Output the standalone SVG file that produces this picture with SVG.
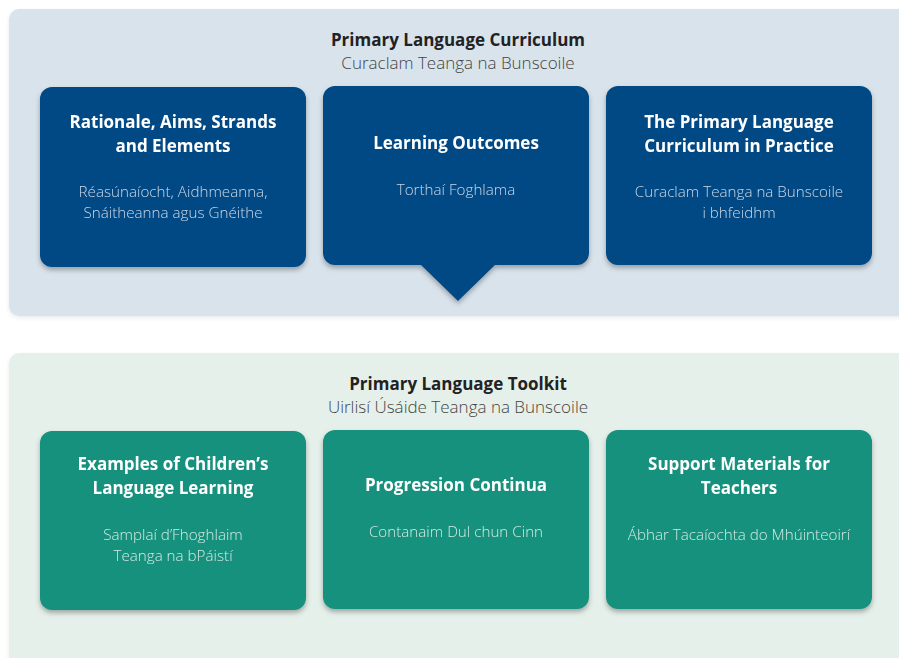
<svg xmlns="http://www.w3.org/2000/svg" width="899" height="658" viewBox="0 0 899 658">
  <style>
    .panel-top { fill: #d9e3ec; }
    .panel-bot { fill: #e6f0ea; }
    .card-blue { fill: #054a84; }
    .card-teal { fill: #18917d; }
    .head { font-family: "Open Sans", "Noto Sans", sans-serif; font-weight: 700; font-size: 17px; fill: #222; text-anchor: middle; }
    .headsub { font-family: "Open Sans", "Noto Sans", sans-serif; font-weight: 300; font-size: 17px; fill: #444; text-anchor: middle; }
    .title { font-family: "Open Sans", "Noto Sans", sans-serif; font-weight: 700; font-size: 17px; fill: #ffffff; text-anchor: middle; }
    .sub-blue { font-family: "Open Sans", "Noto Sans", sans-serif; font-weight: 300; font-size: 15.2px; fill: #c8d6e6; text-anchor: middle; }
    .sub-teal { font-family: "Open Sans", "Noto Sans", sans-serif; font-weight: 300; font-size: 15.2px; fill: #d2eae3; text-anchor: middle; }
  </style>
  <defs>
    <filter id="shadow" x="-10%" y="-10%" width="120%" height="130%">
      <feDropShadow dx="0" dy="3" stdDeviation="2.5" flood-color="#000" flood-opacity="0.3"/>
    </filter>
    <filter id="panelShadow" x="-5%" y="-5%" width="110%" height="115%">
      <feDropShadow dx="0" dy="2" stdDeviation="2" flood-color="#000" flood-opacity="0.08"/>
    </filter>
  </defs>
  <rect width="899" height="658" fill="#ffffff"/>

  <!-- Curriculum section -->
  <g id="curriculum">
    <rect class="panel-top" x="9" y="9" width="900" height="307" rx="10" filter="url(#panelShadow)"/>
    <text class="head" x="458" y="46">Primary Language Curriculum</text>
    <text class="headsub" x="458" y="69">Curaclam Teanga na Bunscoile</text>
  </g>

  <g id="rationale" filter="url(#shadow)">
    <rect class="card-blue" x="40" y="87" width="266" height="180" rx="12"/>
    <text class="title" x="173" y="128">Rationale, Aims, Strands</text>
    <text class="title" x="173" y="152">and Elements</text>
    <text class="sub-blue" x="173" y="197">Réasúnaíocht, Aidhmeanna,</text>
    <text class="sub-blue" x="173" y="218">Snáitheanna agus Gnéithe</text>
  </g>

  <g id="outcomes" filter="url(#shadow)">
    <path class="card-blue" d="M335 86 H577 A12 12 0 0 1 589 98 V253 A12 12 0 0 1 577 265 H495 L458 301 L421 265 H335 A12 12 0 0 1 323 253 V98 A12 12 0 0 1 335 86 Z"/>
    <text class="title" x="456" y="149">Learning Outcomes</text>
    <text class="sub-blue" x="456" y="195">Torthaí Foghlama</text>
  </g>

  <g id="practice" filter="url(#shadow)">
    <rect class="card-blue" x="606" y="86" width="266" height="179" rx="12"/>
    <text class="title" x="739" y="128">The Primary Language</text>
    <text class="title" x="739" y="152">Curriculum in Practice</text>
    <text class="sub-blue" x="739" y="197">Curaclam Teanga na Bunscoile</text>
    <text class="sub-blue" x="739" y="218">i bhfeidhm</text>
  </g>

  <!-- Toolkit section -->
  <g id="toolkit">
    <rect class="panel-bot" x="9" y="353" width="900" height="320" rx="10" filter="url(#panelShadow)"/>
    <text class="head" x="458" y="390">Primary Language Toolkit</text>
    <text class="headsub" x="458" y="413">Uirlisí Úsáide Teanga na Bunscoile</text>
  </g>

  <g id="examples" filter="url(#shadow)">
    <rect class="card-teal" x="40" y="431" width="266" height="179" rx="12"/>
    <text class="title" x="173" y="470">Examples of Children’s</text>
    <text class="title" x="173" y="494">Language Learning</text>
    <text class="sub-teal" x="173" y="540">Samplaí d’Fhoghlaim</text>
    <text class="sub-teal" x="173" y="561">Teanga na bPáistí</text>
  </g>

  <g id="continua" filter="url(#shadow)">
    <rect class="card-teal" x="323" y="430" width="266" height="179" rx="12"/>
    <text class="title" x="456" y="491">Progression Continua</text>
    <text class="sub-teal" x="456" y="537">Contanaim Dul chun Cinn</text>
  </g>

  <g id="support" filter="url(#shadow)">
    <rect class="card-teal" x="606" y="430" width="266" height="179" rx="12"/>
    <text class="title" x="739" y="470">Support Materials for</text>
    <text class="title" x="739" y="494">Teachers</text>
    <text class="sub-teal" x="739" y="540">Ábhar Tacaíochta do Mhúinteoirí</text>
  </g>

  <g id="connectors"/>
</svg>
